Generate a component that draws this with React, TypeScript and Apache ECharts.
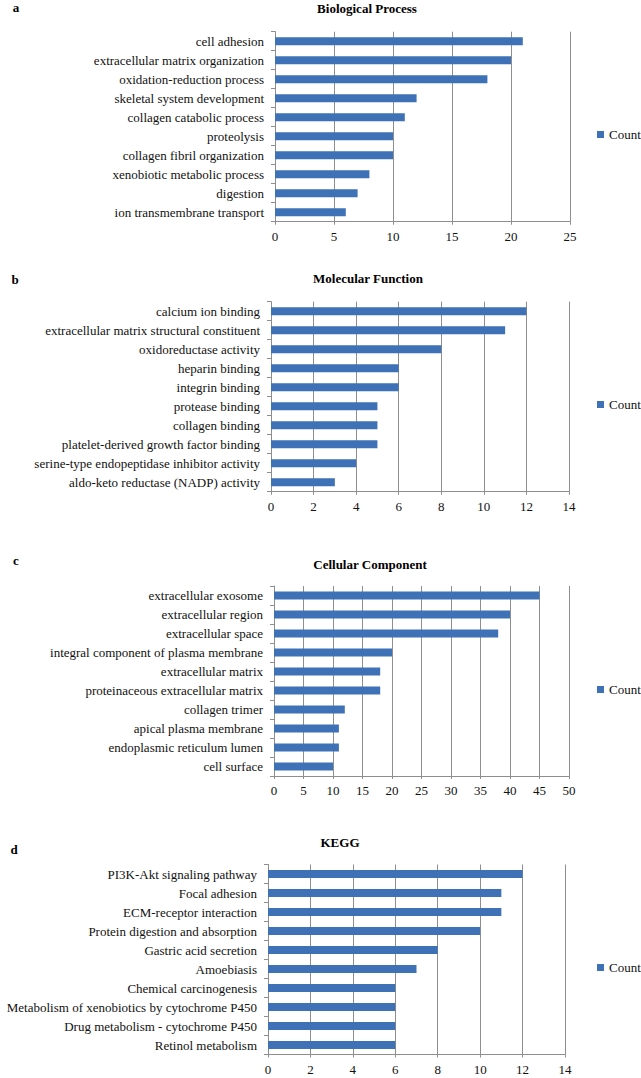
import { useEffect, useRef } from "react";
import * as echarts from "echarts";

type EChartsOption = echarts.EChartsOption;

// Biological Process
const bpTerms = [
  "cell adhesion",
  "extracellular matrix organization",
  "oxidation-reduction process",
  "skeletal system development",
  "collagen catabolic process",
  "proteolysis",
  "collagen fibril organization",
  "xenobiotic metabolic process",
  "digestion",
  "ion transmembrane transport",
];
const bpCounts = [21, 20, 18, 12, 11, 10, 10, 8, 7, 6];

// Molecular Function
const mfTerms = [
  "calcium ion binding",
  "extracellular matrix structural constituent",
  "oxidoreductase activity",
  "heparin binding",
  "integrin binding",
  "protease binding",
  "collagen binding",
  "platelet-derived growth factor binding",
  "serine-type endopeptidase inhibitor activity",
  "aldo-keto reductase (NADP) activity",
];
const mfCounts = [12, 11, 8, 6, 6, 5, 5, 5, 4, 3];

// Cellular Component
const ccTerms = [
  "extracellular exosome",
  "extracellular region",
  "extracellular space",
  "integral component of plasma membrane",
  "extracellular matrix",
  "proteinaceous extracellular matrix",
  "collagen trimer",
  "apical plasma membrane",
  "endoplasmic reticulum lumen",
  "cell surface",
];
const ccCounts = [45, 40, 38, 20, 18, 18, 12, 11, 11, 10];

// KEGG
const keggTerms = [
  "PI3K-Akt signaling pathway",
  "Focal adhesion",
  "ECM-receptor interaction",
  "Protein digestion and absorption",
  "Gastric acid secretion",
  "Amoebiasis",
  "Chemical carcinogenesis",
  "Metabolism of xenobiotics by cytochrome P450",
  "Drug metabolism - cytochrome P450",
  "Retinol metabolism",
];
const keggCounts = [12, 11, 11, 10, 8, 7, 6, 6, 6, 6];

const panelTitles = ["Biological Process", "Molecular Function", "Cellular Component", "KEGG"];
const panelLetters = ["a", "b", "c", "d"];
const axisMax = [25, 14, 50, 14];
const axisStep = [5, 2, 5, 2];

const FONT = "'Liberation Serif', 'Times New Roman', serif";
const BAR = "#3E71B6";
const GRID = "#8E8E8E";

// layout of each panel (pixels)
const layout = [
  { left: 275, top: 31.7, width: 295, titleX: 367, titleY: 8, letterX: 16, letterY: 7, legendY: 135 },
  { left: 271, top: 301.7, width: 298, titleX: 368, titleY: 278, letterX: 15, letterY: 279, legendY: 405 },
  { left: 274, top: 586, width: 295, titleX: 370, titleY: 564, letterX: 16, letterY: 560, legendY: 690 },
  { left: 268, top: 864.5, width: 297, titleX: 340, titleY: 842, letterX: 14, letterY: 849, legendY: 968 },
];

export default function App() {
  const chartRef = useRef<HTMLDivElement>(null);

  useEffect(() => {
    if (!chartRef.current) return;
    const chart = echarts.init(chartRef.current, undefined, { renderer: "svg" });

    const terms = [bpTerms, mfTerms, ccTerms, keggTerms];
    const counts = [bpCounts, mfCounts, ccCounts, keggCounts];

    const option: EChartsOption = {
      animation: false,
      backgroundColor: "#ffffff",
      grid: layout.map((l) => ({
        left: l.left,
        top: l.top,
        width: l.width,
        height: 190,
        containLabel: false,
      })),
      xAxis: layout.map((_, i) => ({
        type: "value",
        gridIndex: i,
        min: 0,
        max: axisMax[i],
        interval: axisStep[i],
        axisLine: { show: true, lineStyle: { color: GRID, width: 1 } },
        axisTick: { show: true, length: 3, lineStyle: { color: GRID } },
        splitLine: { show: true, lineStyle: { color: GRID, width: 1 } },
        axisLabel: { color: "#111", fontFamily: FONT, fontSize: 13, margin: 8 },
      })),
      yAxis: layout.map((_, i) => ({
        type: "category",
        gridIndex: i,
        inverse: true,
        data: terms[i],
        axisLine: { show: true, lineStyle: { color: GRID, width: 1 } },
        axisTick: { show: true, length: 4, lineStyle: { color: GRID } },
        axisLabel: { color: "#111", fontFamily: FONT, fontSize: 13, margin: 11, interval: 0 },
      })),
      legend: layout.map((l) => ({
        data: ["Count"],
        left: 597,
        top: l.legendY - 7,
        padding: 0,
        icon: "rect",
        itemWidth: 7,
        itemHeight: 7,
        selectedMode: false,
        textStyle: { color: "#111", fontFamily: FONT, fontSize: 13 },
      })),
      series: layout.map((_, i) => ({
        name: "Count",
        type: "bar",
        xAxisIndex: i,
        yAxisIndex: i,
        data: counts[i],
        barWidth: 8,
        itemStyle: { color: BAR },
      })),
      graphic: layout.flatMap((l, i) => [
        {
          type: "text",
          x: l.titleX,
          y: l.titleY,
          style: {
            text: panelTitles[i],
            fill: "#000",
            font: `bold 13px ${FONT}`,
            align: "center",
            verticalAlign: "middle",
            textAlign: "center",
            textVerticalAlign: "middle",
          },
        },
        {
          type: "text",
          x: l.letterX,
          y: l.letterY,
          style: {
            text: panelLetters[i],
            fill: "#000",
            font: `bold 13px ${FONT}`,
            align: "center",
            verticalAlign: "middle",
            textAlign: "center",
            textVerticalAlign: "middle",
          },
        },
      ]),
    } as EChartsOption;

    chart.setOption(option);

    return () => {
      chart.dispose();
    };
  }, []);

  return (
    <div
      ref={chartRef}
      style={{ position: "absolute", left: 0, top: 0, width: 641, height: 1078, background: "#fff" }}
    />
  );
}
